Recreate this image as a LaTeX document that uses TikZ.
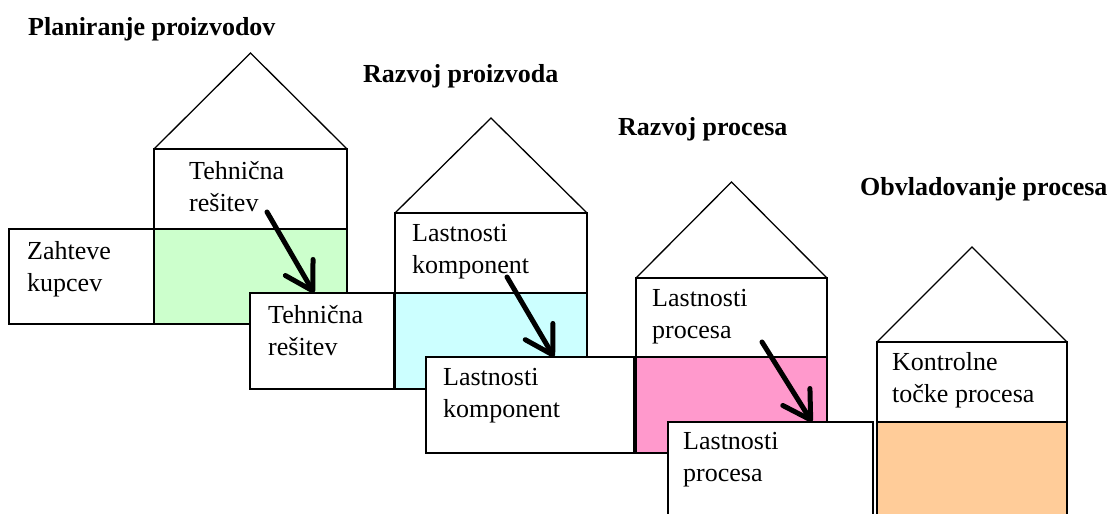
\documentclass[tikz,border=0pt]{standalone}
\usepackage{fontspec}
\setmainfont{Liberation Serif}
\usetikzlibrary{arrows.meta}
\definecolor{fillgreen}{HTML}{CCFFCC}
\definecolor{fillcyan}{HTML}{CCFFFF}
\definecolor{fillpink}{HTML}{FF99CC}
\definecolor{fillorange}{HTML}{FFCC99}

\begin{document}
\begin{tikzpicture}[x=1pt,y=-1pt,
  edgeline/.style={draw=black,line width=1.3pt,line join=miter},
  heading/.style={anchor=base west,inner sep=0pt,font=\fontsize{26}{31}\selectfont\bfseries},
  % two-line texts, placed at the baseline of their last line
  boxtext/.style={anchor=base west,inner sep=0pt,align=left,font=\fontsize{26}{31.5}\selectfont},
  flowarrow/.style={line width=5pt,line cap=round,-{Straight Barb[length=27pt,width=32pt,round]}}
]
\useasboundingbox (0,0) rectangle (1117,514);
\clip (0,0) rectangle (1117,514);

% --- house 1: planning ---
\draw[edgeline] (154,149) -- (250.5,53) -- (347,149);
\draw[edgeline,fill=white] (154,149) rectangle (347,229);
\draw[edgeline,fill=fillgreen] (154,229) rectangle (347,324);
\draw[edgeline,fill=white] (9,229) rectangle (154,324);
\draw[edgeline,fill=white] (250,293) rectangle (394,389);

% --- house 2: product development ---
\draw[edgeline] (395,213) -- (491,118) -- (587,213);
\draw[edgeline,fill=white] (395,213) rectangle (587,293);
\draw[edgeline,fill=fillcyan] (395,293) rectangle (587,389);
\draw[edgeline,fill=white] (426,357) rectangle (634,453);

% --- house 3: process development ---
\draw[edgeline] (636,278) -- (731.5,182) -- (827,278);
\draw[edgeline,fill=white] (636,278) rectangle (827,357);
\draw[edgeline,fill=fillpink] (636,357) rectangle (827,453);
\draw[edgeline,fill=white] (668,422) rectangle (873,540);

% --- house 4: process control ---
\draw[edgeline] (877,342) -- (972,247) -- (1067,342);
\draw[edgeline,fill=white] (877,342) rectangle (1067,422);
\draw[edgeline,fill=fillorange] (877,422) rectangle (1067,540);

% --- headings ---
\node[heading] (t1) at (28,35) {Planiranje proizvodov};
\node[heading] (t2) at (363,82) {Razvoj proizvoda};
\node[heading] (t3) at (618,135) {Razvoj procesa};
\node[heading] (t4) at (860,195) {Obvladovanje procesa};

% --- texts ---
\node[boxtext] (h1) at (189,211) {Tehnična\\rešitev};
\node[boxtext] (zk) at (27,291) {Zahteve\\kupcev};
\node[boxtext] (tr) at (268,355) {Tehnična\\rešitev};
\node[boxtext] (h2) at (412,273) {Lastnosti\\komponent};
\node[boxtext] (lk) at (443,417) {Lastnosti\\komponent};
\node[boxtext] (h3) at (652,338) {Lastnosti\\procesa};
\node[boxtext] (lp) at (683,481) {Lastnosti\\procesa};
\node[boxtext] (h4) at (892,402) {Kontrolne\\točke procesa};

% --- transfer arrows ---
\coordinate (a1s) at (267,212);
\coordinate (a1e) at (314,293);
\coordinate (a2s) at (507,277);
\coordinate (a2e) at (554,357);
\coordinate (a3s) at (762,342);
\coordinate (a3e) at (812,422);
\draw[flowarrow] (a1s) -- (a1e);
\draw[flowarrow] (a2s) -- (a2e);
\draw[flowarrow] (a3s) -- (a3e);
\end{tikzpicture}
\end{document}
